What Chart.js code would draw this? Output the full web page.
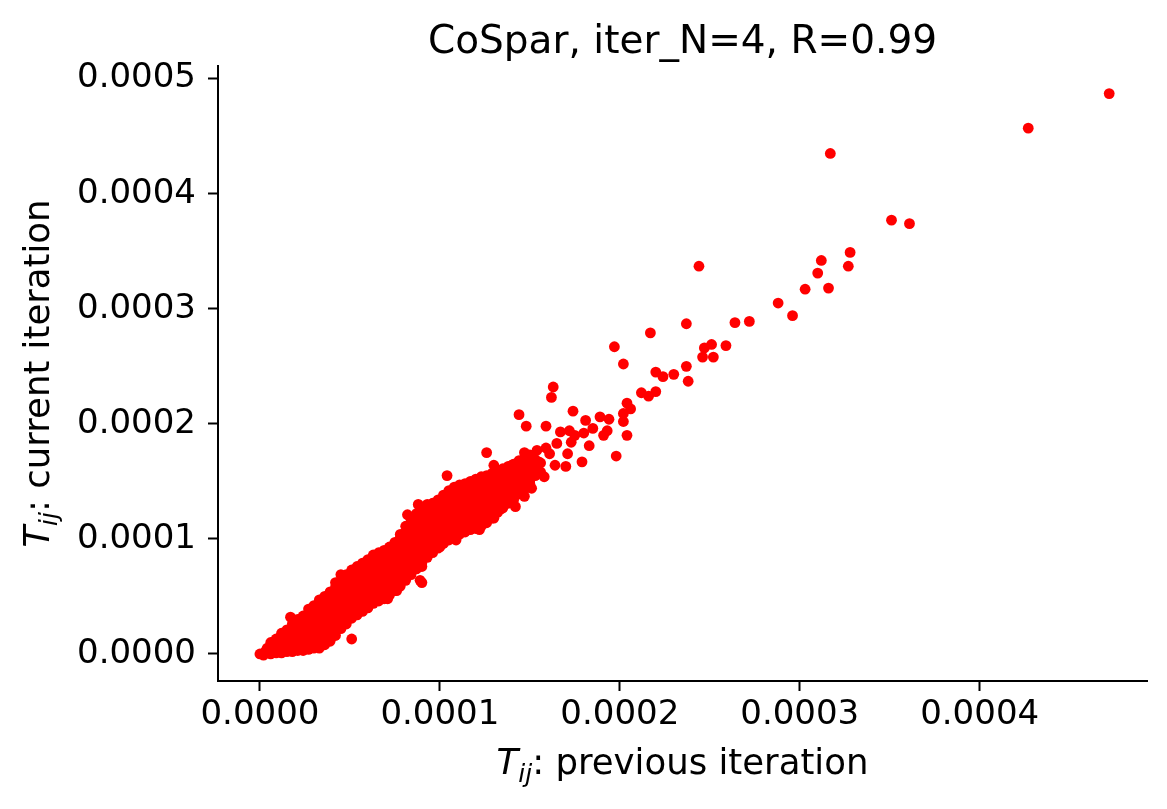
<!DOCTYPE html>
<html>
<head>
<meta charset="utf-8">
<script src="https://cdn.jsdelivr.net/npm/chart.js@4"></script>
<style>
  html, body { margin: 0; padding: 0; background: #fff; }
</style>
</head>
<body>
<canvas id="scatter" width="1167" height="809"></canvas>
<script>
// all point values are in units of 1e-6
const UNIT = 1e-6;

const titleText = 'CoSpar, iter_N=4, R=0.99';
const xAxisLabel = { sym: 'T', sub: 'ij', rest: ': previous iteration' };
const yAxisLabel = { sym: 'T', sub: 'ij', rest: ': current iteration' };

const xTickValues = [0, 0.0001, 0.0002, 0.0003, 0.0004];
const xTickLabels = ['0.0000', '0.0001', '0.0002', '0.0003', '0.0004'];
const yTickValues = [0, 0.0001, 0.0002, 0.0003, 0.0004, 0.0005];
const yTickLabels = ['0.0000', '0.0001', '0.0002', '0.0003', '0.0004', '0.0005'];

// the solid band of points near the origin, [previous, current]
const denseCluster = [
  [0,0],[2,-1],[3,2],[4,5],
  [6,0],[6,5],[6,10],
  [9,1],[9,7],[9,13],
  [12,1],[12,7],[12,13],[12,18],
  [15,2],[15,8],[15,14],[15,21],
  [18,2],[18,8],[18,14],[18,20],[18,26],
  [21,3],[21,9],[21,15],[21,21],[21,27],[21,30],
  [24,3],[24,9],[24,15],[24,21],[24,27],[24,33],
  [27,4],[27,10],[27,16],[27,22],[27,28],[27,34],[27,39],
  [30,5],[30,11],[30,17],[30,23],[30,29],[30,35],[30,42],
  [33,5],[33,11],[33,17],[33,23],[33,29],[33,35],[33,41],[33,47],
  [36,8],[36,14],[36,20],[36,26],[36,32],[36,38],[36,44],[36,50],
  [39,11],[39,17],[39,23],[39,29],[39,35],[39,41],[39,47],[39,54],
  [42,16],[42,22],[42,28],[42,34],[42,40],[42,46],[42,52],[42,58],[42,62],
  [45,22],[45,28],[45,34],[45,40],[45,46],[45,52],[45,58],[45,64],[45,69],
  [48,26],[48,32],[48,38],[48,44],[48,50],[48,56],[48,62],[48,69],
  [51,31],[51,37],[51,43],[51,49],[51,55],[51,61],[51,67],[51,73],
  [54,34],[54,40],[54,46],[54,52],[54,58],[54,64],[54,70],[54,76],
  [57,37],[57,43],[57,49],[57,55],[57,61],[57,67],[57,73],[57,79],
  [60,40],[60,46],[60,52],[60,58],[60,64],[60,70],[60,76],[60,82],
  [63,44],[63,50],[63,56],[63,62],[63,68],[63,74],[63,80],[63,86],
  [66,46],[66,52],[66,58],[66,64],[66,70],[66,76],[66,82],[66,88],
  [69,48],[69,54],[69,60],[69,66],[69,72],[69,78],[69,84],[69,90],
  [72,51],[72,57],[72,63],[72,69],[72,75],[72,81],[72,87],[72,93],
  [75,55],[75,61],[75,67],[75,73],[75,79],[75,85],[75,91],[75,97],
  [78,59],[78,65],[78,71],[78,77],[78,83],[78,89],[78,95],[78,101],[78,104],
  [81,64],[81,70],[81,76],[81,82],[81,88],[81,94],[81,100],[81,106],[81,111],
  [84,69],[84,75],[84,81],[84,87],[84,93],[84,99],[84,105],[84,111],[84,117],
  [87,74],[87,80],[87,86],[87,92],[87,98],[87,104],[87,110],[87,116],[87,122],
  [90,79],[90,85],[90,91],[90,97],[90,103],[90,109],[90,115],[90,121],[90,127],
  [93,84],[93,90],[93,96],[93,102],[93,108],[93,114],[93,120],[93,126],[93,129],
  [96,88],[96,94],[96,100],[96,106],[96,112],[96,118],[96,124],[96,131],
  [99,92],[99,98],[99,104],[99,110],[99,116],[99,122],[99,128],[99,134],
  [102,96],[102,102],[102,108],[102,114],[102,120],[102,126],[102,132],[102,138],
  [105,99],[105,105],[105,111],[105,117],[105,123],[105,129],[105,135],[105,142],
  [108,101],[108,107],[108,113],[108,119],[108,125],[108,131],[108,137],[108,145],
  [111,104],[111,110],[111,116],[111,122],[111,128],[111,134],[111,140],[111,147],
  [114,106],[114,112],[114,118],[114,124],[114,130],[114,136],[114,142],[114,148],
  [117,108],[117,114],[117,120],[117,126],[117,132],[117,138],[117,144],[117,150],
  [120,109],[120,115],[120,121],[120,127],[120,133],[120,139],[120,145],[120,152],
  [123,111],[123,117],[123,123],[123,129],[123,135],[123,141],[123,147],[123,154],
  [126,114],[126,120],[126,126],[126,132],[126,138],[126,144],[126,150],[126,155],
  [129,118],[129,123],[129,129],[129,135],[129,141],[129,147],[129,153],[129,157],
  [132,123],[132,128],[132,133],[132,139],[132,145],[132,151],[132,159],
  [135,127],[135,131],[135,136],[135,142],[135,148],[135,154],[135,161],
  [138,131],[138,137],[138,143],[138,149],[138,155],[138,163],
  [141,134],[141,140],[141,146],[141,152],[141,158],[141,165],
  [144,139],[144,145],[144,151],[144,157],[144,163],[144,168],
  [147,143],[147,149],[147,156],[147,162],[147,170],
  [150,148],[150,154],[150,160],[150,167],[150,173],
  [153,155],[153,161],[153,169],
  [156,158],[156,166]
];

// the looser points around and beyond the band
const spreadPoints = [
  [472,487],[427,457],[317,435],[351,377],[361,374],[244,337],[328,349],
  [312,342],[310,331],[327,337],[316,318],[303,317],[288,305],[296,294],
  [264,288],[272,289],[237,287],[217,279],[197,267],[202,252],[251,269],
  [247,266],[259,268],[246,258],[252,258],[237,250],[238,237],[220,245],
  [224,241],[230,243],[212,227],[216,224],[220,228],[204,218],[206,213],
  [202,209],[202,202],[204,190],[198,172],[163,232],[162,223],[144,208],
  [148,198],[159,198],[174,211],[181,203],[189,206],[194,204],[185,196],
  [180,192],[175,190],[172,194],[167,193],[173,184],[165,183],[183,181],
  [191,190],[193,194],[171,174],[179,167],[170,163],[126,175],[130,164],
  [104,155],[147,175],[154,177],[159,179],[161,174],[155,167],[164,164],
  [140,164],[158,154],[134,157],[148,157],[142,149],[150,151],[151,144],
  [147,137],[142,128],[130,118],[134,126],[122,108],[113,112],[108,140],
  [119,147],[124,150],[129,151],[115,143],[121,140],[117,134],[126,134],
  [133,137],[139,143],[128,125],[111,128],[106,119],[121,123],[102,110],
  [109,102],[88,130],[93,130],[97,128],[82,121],[87,121],[117,144],
  [121,149],[132,157],[90,62],[90,76],[76,55],[71,48],[51,13],[35,9],
  [39,15],[43,23],[17,32],[89,64],[59,42],[100,93],[109,99]
];

const xMin = -2.33e-5, xMax = 4.93e-4;
const yMin = -2.35e-5, yMax = 5.11e-4;

const points = denseCluster.concat(spreadPoints).map(([x, y]) => ({ x: x * UNIT, y: y * UNIT }));

const FONT = '"DejaVu Sans"';
const tickFont = { family: FONT, size: 34 };
const axisFontSize = 35.5;

function drawMathLabel(ctx, label, cx, baseline) {
  const small = Math.round(axisFontSize * 0.7);
  const parts = [
    { text: label.sym, font: `italic ${axisFontSize}px ${FONT}`, dy: 0 },
    { text: label.sub, font: `italic ${small}px ${FONT}`, dy: axisFontSize * 0.22 },
    { text: label.rest, font: `${axisFontSize}px ${FONT}`, dy: 0 }
  ];
  let total = 0;
  parts.forEach(p => { ctx.font = p.font; p.w = ctx.measureText(p.text).width; total += p.w; });
  let x = cx - total / 2;
  ctx.textAlign = 'left';
  ctx.textBaseline = 'alphabetic';
  parts.forEach(p => {
    ctx.font = p.font;
    ctx.fillText(p.text, x, baseline + p.dy);
    x += p.w;
  });
}

const textPlugin = {
  id: 'figureText',
  afterDraw(chart) {
    const { ctx, chartArea } = chart;
    const cx = (chartArea.left + chartArea.right) / 2;
    const cy = (chartArea.top + chartArea.bottom) / 2;
    ctx.save();
    ctx.fillStyle = '#000';
    ctx.font = `39px ${FONT}`;
    ctx.textAlign = 'center';
    ctx.textBaseline = 'alphabetic';
    ctx.fillText(titleText, cx, 53);
    drawMathLabel(ctx, xAxisLabel, cx, 774);
    ctx.translate(49, cy);
    ctx.rotate(-Math.PI / 2);
    drawMathLabel(ctx, yAxisLabel, 0, 0);
    ctx.restore();
  }
};

const axisGrid = {
  drawOnChartArea: false,
  drawTicks: true,
  tickLength: 10,
  tickWidth: 2,
  tickColor: '#000'
};

new Chart(document.getElementById('scatter').getContext('2d'), {
  type: 'scatter',
  data: {
    datasets: [{
      data: points,
      backgroundColor: '#ff0000',
      borderWidth: 0,
      pointRadius: 5.4,
      pointHoverRadius: 5.4
    }]
  },
  options: {
    responsive: false,
    animation: false,
    layout: { padding: { top: 66, right: 20, left: 0, bottom: 0 } },
    plugins: {
      legend: { display: false },
      tooltip: { enabled: false }
    },
    scales: {
      x: {
        type: 'linear',
        min: xMin,
        max: xMax,
        afterBuildTicks: scale => { scale.ticks = xTickValues.map(v => ({ value: v })); },
        afterFit: scale => { scale.height = 128; },
        grid: axisGrid,
        border: { display: true, color: '#000', width: 2 },
        ticks: {
          autoSkip: false,
          maxRotation: 0,
          padding: 4,
          color: '#000',
          font: tickFont,
          callback: (v, i) => xTickLabels[i]
        }
      },
      y: {
        type: 'linear',
        min: yMin,
        max: yMax,
        afterBuildTicks: scale => { scale.ticks = yTickValues.map(v => ({ value: v })); },
        afterFit: scale => { scale.width = 218; },
        grid: axisGrid,
        border: { display: true, color: '#000', width: 2 },
        ticks: {
          autoSkip: false,
          padding: 12,
          color: '#000',
          font: tickFont,
          callback: (v, i) => yTickLabels[i]
        }
      }
    }
  },
  plugins: [textPlugin]
});
</script>
</body>
</html>
